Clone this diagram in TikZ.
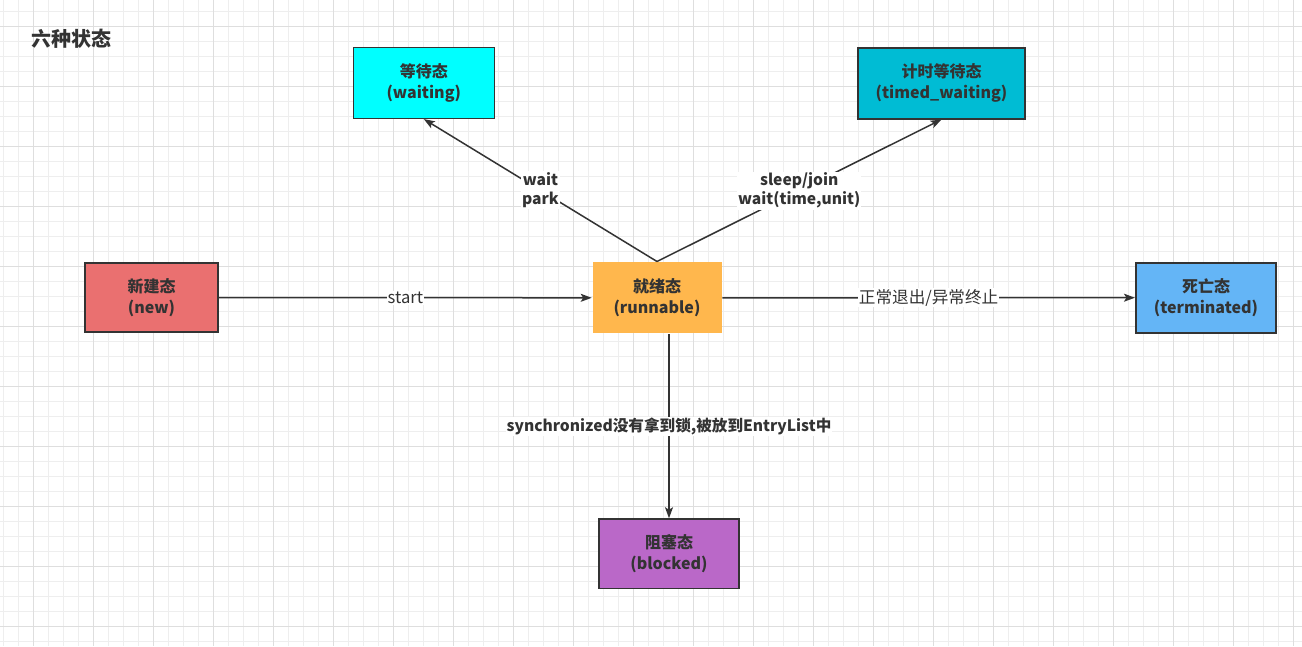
\documentclass[tikz,border=0pt]{standalone}
\usepackage{fontspec}
\setmainfont{Noto Sans CJK SC}
\usetikzlibrary{arrows.meta}
\definecolor{txt}{HTML}{333333}
\definecolor{gridminor}{HTML}{EEEEEE}
\definecolor{gridmajor}{HTML}{DEDEDE}
\definecolor{cnew}{HTML}{EA7070}
\definecolor{crun}{HTML}{FFB74D}
\definecolor{cterm}{HTML}{64B5F6}
\definecolor{cwait}{HTML}{00FFFF}
\definecolor{ctimed}{HTML}{00BCD4}
\definecolor{cblk}{HTML}{BA68C8}
\tikzset{
  statebox/.style={rectangle, draw=txt, line width=1.6pt, inner sep=0pt, align=center,
    text=txt, font=\fontsize{16}{21}\selectfont\bfseries},
  conn/.style={draw=txt, line width=1.5pt, -{Stealth[length=11pt,width=8pt,inset=2.5pt]}},
  lbl/.style={fill=white, inner sep=1pt, align=center, text=txt,
    font=\fontsize{15.6}{19.5}\selectfont\bfseries},
  lblr/.style={fill=white, inner sep=1pt, align=center, text=txt,
    font=\fontsize{16.6}{19.5}\selectfont},
  minorline/.style={draw=gridminor, line width=1pt},
  majorline/.style={draw=gridmajor, line width=1pt}
}
\begin{document}
\begin{tikzpicture}[x=1pt, y=-1pt]
\useasboundingbox (0,0) rectangle (1302,646);
\fill[white] (0,0) rectangle (1302,646);
% grid
\foreach \i in {0,...,86} {\draw[minorline] ({3.3+15*\i},0) -- ({3.3+15*\i},646);}
\foreach \i in {0,...,43} {\draw[minorline] (0,{11.7+15*\i}) -- (1302,{11.7+15*\i});}
\foreach \i in {0,...,21} {\draw[majorline] ({33.3+60*\i},0) -- ({33.3+60*\i},646);}
\foreach \i in {0,...,10} {\draw[majorline] (0,{26.7+60*\i}) -- (1302,{26.7+60*\i});}
% title
\node[anchor=west, text=txt, inner sep=0pt, font=\fontsize{20}{24}\selectfont\bfseries] (title) at (31,39) {六种状态};
% states
\node[statebox, fill=cnew, minimum width=133.5pt, minimum height=69.5pt] (new) at (151.5,297.5) {新建态\\(new)};
\node[statebox, fill=crun, draw=none, minimum width=129pt, minimum height=71pt] (run) at (657,297.8) {就绪态\\(runnable)};
\node[statebox, fill=cterm, minimum width=140.5pt, minimum height=70pt] (term) at (1206,297.7) {死亡态\\(terminated)};
\node[statebox, fill=cwait, minimum width=141pt, minimum height=71pt] (wait) at (423.8,82.8) {等待态\\(waiting)};
\node[statebox, fill=ctimed, minimum width=166.5pt, minimum height=71pt] (timed) at (941.5,83.2) {计时等待态\\(timed\_waiting)};
\node[statebox, fill=cblk, minimum width=140.5pt, minimum height=69.5pt] (blk) at (669,553.8) {阻塞态\\(blocked)};
% connectors
\draw[conn] (new.east) -- node[lblr] (l1) {start} (run.west);
\draw[conn] (run.east) -- node[lblr] (l2) {正常退出/异常终止} (term.west);
\draw[conn] (run.north) -- node[lbl] (l3) {wait\\park} (wait.south);
\draw[conn] (run.north) -- node[lbl] (l4) {sleep/join\\wait(time,unit)} (timed.south);
\coordinate (bstart) at (blk.north |- run.south);
\draw[conn] (bstart) -- node[lbl] (l5) {synchronized没有拿到锁,被放到EntryList中} (blk.north);
\end{tikzpicture}
\end{document}
